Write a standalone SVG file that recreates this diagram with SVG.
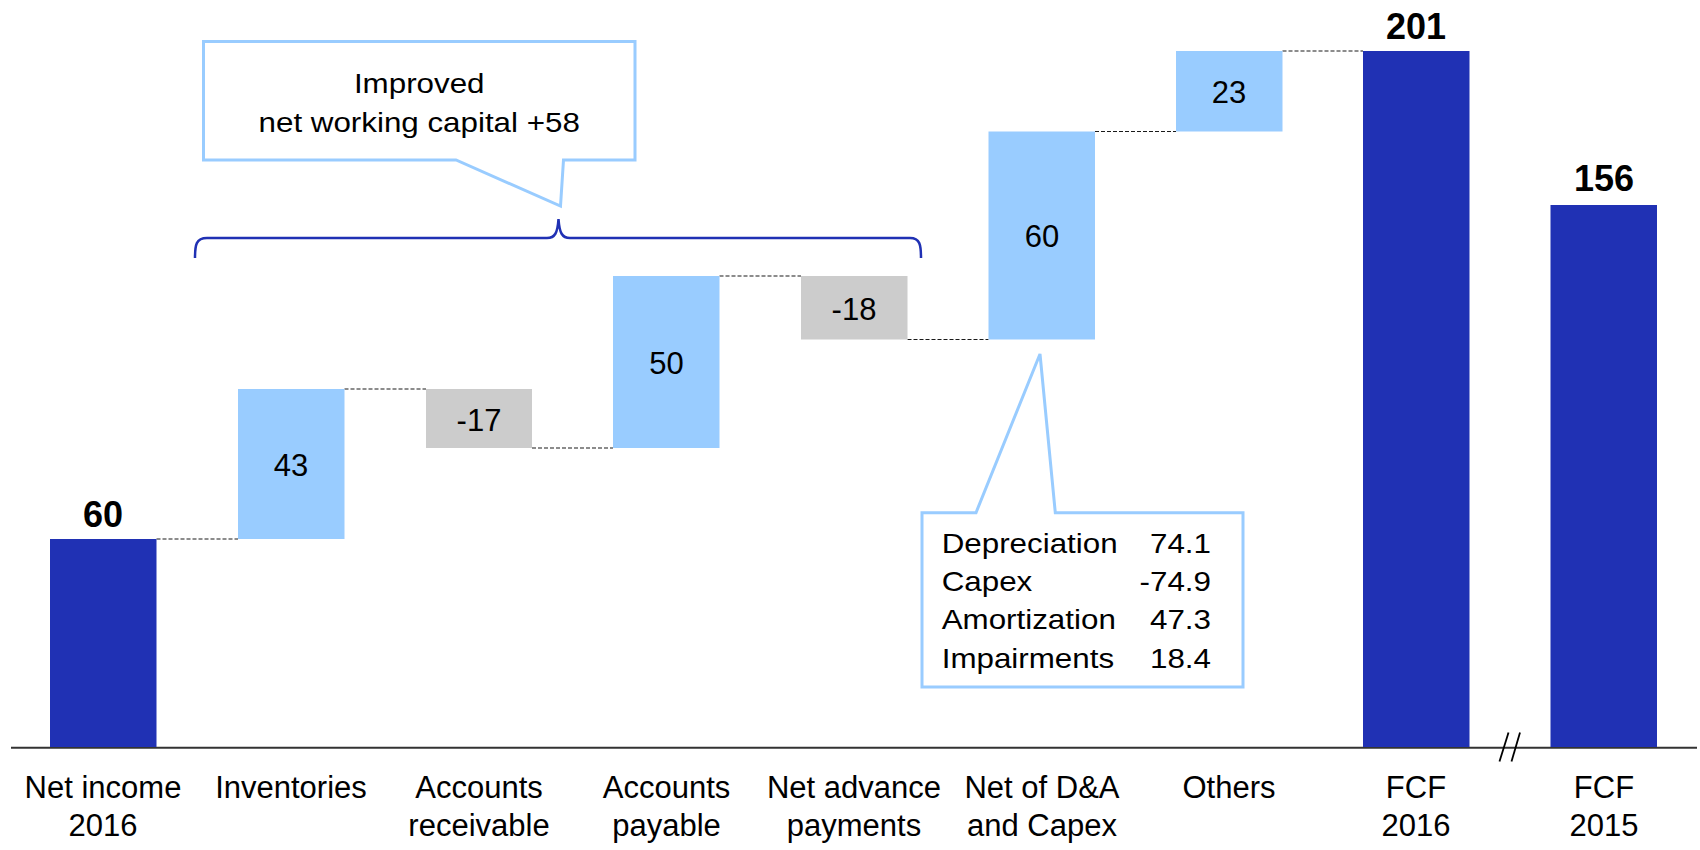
<svg xmlns="http://www.w3.org/2000/svg" width="1700" height="850" viewBox="0 0 1700 850">
<style>
text{font-family:"Liberation Sans",Arial,Helvetica,sans-serif;fill:#000}
.lbl{font-size:31px;text-anchor:middle}
.val{font-size:31px;text-anchor:middle}
.tot{font-size:36px;font-weight:bold;text-anchor:middle}
.co{font-size:28.5px}
.dark{fill:#2031B4}
.light{fill:#99CCFF}
.grey{fill:#CCCCCC}
.dash{stroke:#1a1a1a;stroke-width:1.2;stroke-dasharray:4 2;fill:none}
.callout{fill:#fff;stroke:#99CCFF;stroke-width:3;stroke-linejoin:miter}
.brace{fill:none;stroke:#2031B4;stroke-width:2.5}
.axis{stroke:#333;stroke-width:2;fill:none}
.brk{stroke:#000;stroke-width:1.8;fill:none}
</style>

<g id="connectors">
<line class="dash" x1="156.5" y1="539" x2="238" y2="539"/>
<line class="dash" x1="344.5" y1="389" x2="426" y2="389"/>
<line class="dash" x1="532" y1="448" x2="613" y2="448"/>
<line class="dash" x1="719.5" y1="276" x2="801" y2="276"/>
<line class="dash" x1="907.5" y1="339.5" x2="988.5" y2="339.5"/>
<line class="dash" x1="1095" y1="131.5" x2="1176" y2="131.5"/>
<line class="dash" x1="1282.5" y1="51" x2="1363" y2="51"/>
</g>

<g id="axis">
<line class="axis" x1="11" y1="747.8" x2="1697" y2="747.8"/>
<line class="brk" x1="1499.5" y1="761.5" x2="1508.5" y2="732.5"/>
<line class="brk" x1="1511.5" y1="761.5" x2="1520" y2="732.5"/>
</g>

<g id="bar-net-income">
<rect class="dark" x="50" y="539" width="106.5" height="208"/>
<text class="tot" x="103" y="526.5">60</text>
<text class="lbl" x="103" y="798">Net income</text>
<text class="lbl" x="103" y="836">2016</text>
</g>

<g id="bar-inventories">
<rect class="light" x="238" y="389" width="106.5" height="150"/>
<text class="val" x="291" y="475.5">43</text>
<text class="lbl" x="291" y="798">Inventories</text>
</g>

<g id="bar-accounts-receivable">
<rect class="grey" x="426" y="389" width="106" height="59"/>
<text class="val" x="479" y="431">-17</text>
<text class="lbl" x="479" y="798">Accounts</text>
<text class="lbl" x="479" y="836">receivable</text>
</g>

<g id="bar-accounts-payable">
<rect class="light" x="613" y="276" width="106.5" height="172"/>
<text class="val" x="666.5" y="373.5">50</text>
<text class="lbl" x="666.5" y="798">Accounts</text>
<text class="lbl" x="666.5" y="836">payable</text>
</g>

<g id="bar-net-advance-payments">
<rect class="grey" x="801" y="276" width="106.5" height="63.5"/>
<text class="val" x="854" y="319.5">-18</text>
<text class="lbl" x="854" y="798">Net advance</text>
<text class="lbl" x="854" y="836">payments</text>
</g>

<g id="bar-net-da-capex">
<rect class="light" x="988.5" y="131.5" width="106.5" height="208"/>
<text class="val" x="1042" y="247">60</text>
<text class="lbl" x="1042" y="798">Net of D&amp;A</text>
<text class="lbl" x="1042" y="836">and Capex</text>
</g>

<g id="bar-others">
<rect class="light" x="1176" y="51" width="106.5" height="80.5"/>
<text class="val" x="1229" y="102.5">23</text>
<text class="lbl" x="1229" y="798">Others</text>
</g>

<g id="bar-fcf-2016">
<rect class="dark" x="1363" y="51" width="106.5" height="696"/>
<text class="tot" x="1416" y="39">201</text>
<text class="lbl" x="1416" y="798">FCF</text>
<text class="lbl" x="1416" y="836">2016</text>
</g>

<g id="bar-fcf-2015">
<rect class="dark" x="1550.5" y="205" width="106.5" height="542"/>
<text class="tot" x="1604" y="191">156</text>
<text class="lbl" x="1604" y="798">FCF</text>
<text class="lbl" x="1604" y="836">2015</text>
</g>

<g id="brace-nwc">
<path class="brace" d="M195,258 C195,245 196,238 207,238 L547,238 C555,238 557.5,233 558.5,219 C559.5,233 562,238 570,238 L910,238 C920,238 921,245 921,258"/>
</g>

<g id="callout-nwc">
<path class="callout" d="M203.5,41.5 L635,41.5 L635,160 L563.5,160 L560.5,206 L456,160 L203.5,160 Z"/>
<g transform="translate(419.2 0) scale(1.1 1)">
<text class="co" x="0" y="93.3" text-anchor="middle">Improved</text>
<text class="co" x="0" y="131.7" text-anchor="middle">net working capital +58</text>
</g>
</g>

<g id="callout-da">
<path class="callout" d="M922,512.7 L976,512.7 L1040,354 L1055.3,512.7 L1243,512.7 L1243,687 L922,687 Z"/>
<g transform="translate(941.7 0) scale(1.1 1)">
<text class="co" x="0" y="552.7">Depreciation</text>
<text class="co" x="0" y="591">Capex</text>
<text class="co" x="0" y="629.3">Amortization</text>
<text class="co" x="0" y="667.7">Impairments</text>
<text class="co" x="244.8" y="552.7" text-anchor="end">74.1</text>
<text class="co" x="244.8" y="591" text-anchor="end">-74.9</text>
<text class="co" x="244.8" y="629.3" text-anchor="end">47.3</text>
<text class="co" x="244.8" y="667.7" text-anchor="end">18.4</text>
</g>
</g>
</svg>
